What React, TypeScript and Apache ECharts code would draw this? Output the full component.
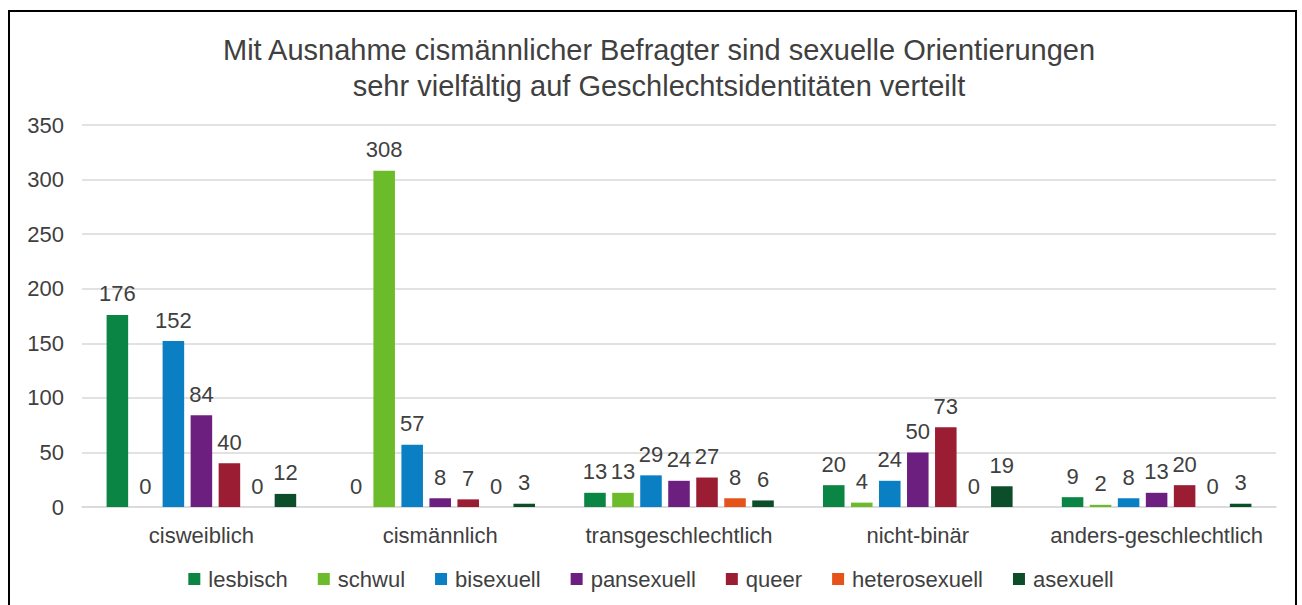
import React, { useEffect, useRef } from "react";
import * as echarts from "echarts";

const categories = ["cisweiblich", "cismännlich", "transgeschlechtlich", "nicht-binär", "anders-geschlechtlich"];
const seriesNames = ["lesbisch", "schwul", "bisexuell", "pansexuell", "queer", "heterosexuell", "asexuell"];
const lesbisch = [176, 0, 13, 20, 9];
const schwul = [0, 308, 13, 4, 2];
const bisexuell = [152, 57, 29, 24, 8];
const pansexuell = [84, 8, 24, 50, 13];
const queer = [40, 7, 27, 73, 20];
const heterosexuell = [0, 0, 8, 0, 0];
const asexuell = [12, 3, 6, 19, 3];
const seriesValues = [lesbisch, schwul, bisexuell, pansexuell, queer, heterosexuell, asexuell];
const colors = ["#0A8543", "#6CBB2A", "#0A7FC4", "#6D1F80", "#9B1D33", "#E5531A", "#0C4E2A"];
const titleText = "Mit Ausnahme cismännlicher Befragter sind sexuelle Orientierungen\nsehr vielfältig auf Geschlechtsidentitäten verteilt";

const FONT = "'Liberation Sans', Arial, sans-serif";

export default function App() {
  const ref = useRef<HTMLDivElement>(null);
  useEffect(() => {
    document.body.style.margin = "0";
    const chart = echarts.init(ref.current!, undefined, { renderer: "svg" });
    chart.setOption({
      animation: false,
      backgroundColor: "#ffffff",
      textStyle: { fontFamily: FONT },
      title: {
        text: titleText,
        left: 654,
        textAlign: "center",
        top: 27,
        textStyle: { fontSize: 29, fontWeight: "normal", color: "#404040", lineHeight: 36, fontFamily: FONT },
      },
      graphic: [
        {
          type: "rect",
          shape: { x: 9, y: 11, width: 1287, height: 620 },
          style: { fill: "none", stroke: "#000000", lineWidth: 2 },
          silent: true,
        },
      ],
      legend: {
        data: seriesNames,
        bottom: 10,
        left: "center",
        itemWidth: 12,
        itemHeight: 12,
        itemGap: 30,
        icon: "rect",
        textStyle: { fontSize: 22, color: "#404040", fontFamily: FONT, padding: [0, 0, 0, 3] },
      },
      grid: { left: 82, right: 26, top: 125, bottom: 98, containLabel: false },
      xAxis: {
        type: "category",
        data: categories,
        axisTick: { show: false },
        axisLine: { lineStyle: { color: "#d9d9d9", width: 1.5 } },
        axisLabel: { fontSize: 22, color: "#404040", margin: 17, fontFamily: FONT, interval: 0, hideOverlap: false },
      },
      yAxis: {
        type: "value",
        min: 0,
        max: 350,
        interval: 50,
        axisLine: { show: false },
        axisTick: { show: false },
        splitLine: { lineStyle: { color: "#d9d9d9", width: 1.5 } },
        axisLabel: { fontSize: 22, color: "#404040", margin: 18, fontFamily: FONT },
      },
      series: seriesNames.map((name, i) => ({
        name,
        type: "bar",
        data: seriesValues[i],
        barCategoryGap: "20.6%",
        barGap: "30%",
        itemStyle: { color: colors[i] },
        label: {
          show: true,
          position: "top",
          distance: 10,
          fontSize: 22,
          color: "#404040",
          fontFamily: FONT,
        },
      })),
    });
    return () => chart.dispose();
  }, []);
  return <div ref={ref} style={{ width: 1302, height: 605 }} />;
}
